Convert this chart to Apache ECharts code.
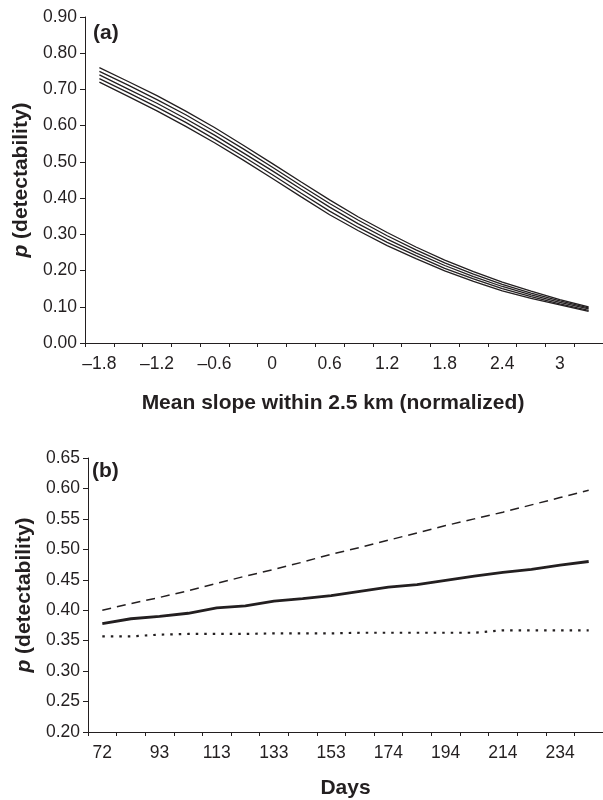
<!DOCTYPE html>
<html>
<head>
<meta charset="utf-8">
<script src="https://cdn.jsdelivr.net/npm/echarts@6/dist/echarts.min.js"></script>
<style>
  html, body { margin: 0; padding: 0; background: #fff; }
  #chart { width: 603px; height: 800px; }
</style>
</head>
<body>
<div id="chart"></div>
<script>
// (a) 坡度类别与五条曲线
const slopeCats = ['–1.8', '–1.5', '–1.2', '–0.9', '–0.6', '–0.3', '0', '0.3', '0.6',
                   '0.9', '1.2', '1.5', '1.8', '2.1', '2.4', '2.7', '3', '3.3'];
const slopeLine1 = [0.760, 0.722, 0.683, 0.640, 0.595, 0.546, 0.496, 0.445, 0.395, 0.348, 0.305, 0.265, 0.229, 0.197, 0.168, 0.143, 0.120, 0.100];
const slopeLine2 = [0.750, 0.712, 0.672, 0.630, 0.584, 0.536, 0.486, 0.435, 0.385, 0.339, 0.296, 0.257, 0.221, 0.190, 0.162, 0.138, 0.116, 0.097];
const slopeLine3 = [0.740, 0.701, 0.662, 0.619, 0.574, 0.525, 0.476, 0.425, 0.375, 0.329, 0.287, 0.249, 0.214, 0.183, 0.156, 0.133, 0.112, 0.094];
const slopeLine4 = [0.730, 0.691, 0.651, 0.609, 0.563, 0.515, 0.465, 0.414, 0.364, 0.319, 0.278, 0.241, 0.206, 0.177, 0.150, 0.128, 0.108, 0.090];
const slopeLine5 = [0.720, 0.681, 0.641, 0.598, 0.553, 0.505, 0.455, 0.404, 0.354, 0.310, 0.269, 0.233, 0.199, 0.170, 0.144, 0.123, 0.105, 0.087];

// (b) 天数与三条曲线
const dayCats = ['72', '82', '93', '103', '113', '123', '133', '143', '153',
                 '164', '174', '184', '194', '204', '214', '224', '234', '245'];
const dayDashed = [0.400, 0.411, 0.421, 0.432, 0.444, 0.456, 0.467, 0.479, 0.492, 0.503, 0.515, 0.527, 0.539, 0.550, 0.561, 0.573, 0.585, 0.597];
const daySolid  = [0.378, 0.386, 0.390, 0.395, 0.404, 0.407, 0.415, 0.419, 0.424, 0.431, 0.438, 0.442, 0.449, 0.456, 0.462, 0.467, 0.474, 0.480];
const dayDotted = [0.357, 0.357, 0.360, 0.361, 0.361, 0.361, 0.362, 0.362, 0.362, 0.363, 0.363, 0.363, 0.363, 0.363, 0.367, 0.367, 0.367, 0.367];

const FONT = "'Liberation Sans', Arial, sans-serif";
const INK = '#231f20';

function catAxis(gridIndex, data, name, nameGap, namePad) {
    return {
        type: 'category',
        gridIndex: gridIndex,
        data: data,
        boundaryGap: true,
        axisLine: { show: true, lineStyle: { color: INK, width: 1 } },
        axisTick: { show: true, interval: 0, length: 4, lineStyle: { color: INK } },
        axisLabel: { interval: 1, margin: 12, color: INK, fontSize: 17.5, fontFamily: FONT },
        splitLine: { show: false },
        name: name,
        nameLocation: 'middle',
        nameGap: nameGap,
        nameTextStyle: { color: INK, fontSize: 21, fontWeight: 'bold', fontFamily: FONT, padding: namePad }
    };
}

function valAxis(gridIndex, min, max, interval) {
    return {
        type: 'value',
        gridIndex: gridIndex,
        min: min,
        max: max,
        interval: interval,
        axisLine: { show: true, lineStyle: { color: INK, width: 1 } },
        axisTick: { show: true, length: 5, lineStyle: { color: INK } },
        axisLabel: { margin: 8, color: INK, fontSize: 17.5, fontFamily: FONT,
                     formatter: v => v.toFixed(2) },
        splitLine: { show: false },
        name: '{i|p} (detectability)',
        nameLocation: 'middle',
        nameGap: 50,
        nameTextStyle: {
            color: INK, fontSize: 21, fontWeight: 'bold', fontFamily: FONT,
            rich: { i: { fontStyle: 'italic', fontWeight: 'bold', fontSize: 21, fontFamily: FONT, color: INK } }
        }
    };
}

function lineSeries(xi, data, width, type) {
    return {
        type: 'line',
        xAxisIndex: xi,
        yAxisIndex: xi,
        data: data,
        symbol: 'none',
        smooth: false,
        silent: true,
        lineStyle: { color: INK, width: width, type: type }
    };
}

const chart = echarts.init(document.getElementById('chart'));
chart.setOption({
    animation: false,
    backgroundColor: '#fff',
    grid: [
        { left: 85, top: 17, width: 519, height: 326 },
        { left: 88, top: 458, width: 519, height: 274 }
    ],
    xAxis: [
        catAxis(0, slopeCats, 'Mean slope within 2.5 km (normalized)', 50, [0, 22, 0, 0]),
        catAxis(1, dayCats, 'Days', 46, 0)
    ],
    yAxis: [
        valAxis(0, 0, 0.9, 0.1),
        valAxis(1, 0.2, 0.65, 0.05)
    ],
    graphic: [
        { type: 'text', left: 93, top: 23, style: { text: '(a)', font: 'bold 21px ' + FONT, fill: INK } },
        { type: 'text', left: 92, top: 461, style: { text: '(b)', font: 'bold 21px ' + FONT, fill: INK } }
    ],
    series: [
        lineSeries(0, slopeLine1, 1.3, 'solid'),
        lineSeries(0, slopeLine2, 1.3, 'solid'),
        lineSeries(0, slopeLine3, 1.3, 'solid'),
        lineSeries(0, slopeLine4, 1.3, 'solid'),
        lineSeries(0, slopeLine5, 1.3, 'solid'),
        lineSeries(1, dayDashed, 1.5, [9, 6]),
        lineSeries(1, daySolid, 2.8, 'solid'),
        lineSeries(1, dayDotted, 2.2, [2.5, 6])
    ]
});
</script>
</body>
</html>
